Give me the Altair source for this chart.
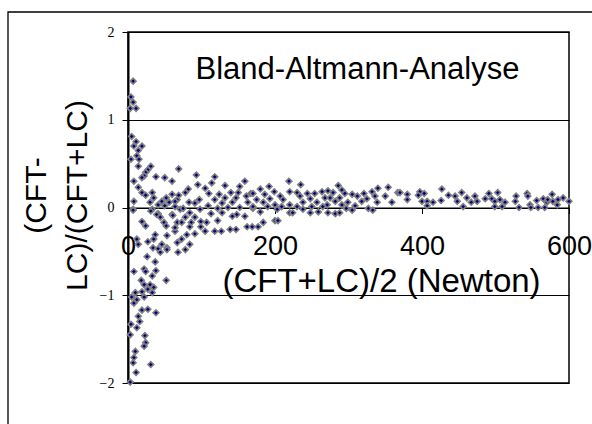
import altair as alt
import pandas as pd

# mean force (CFT+LC)/2 in Newton
mean_force = [
    7, 4, 7, 3, 11, 5, 11, 8, 19, 14, 12, 4, 15, 14, 31, 27, 24, 22, 19, 38, 50, 60, 8, 14, 69,
    19, 24, 33, 35, 8, 30, 41, 46, 52, 60, 67, 56, 50, 64, 7, 33, 41, 60, 71,
    7, 31, 39, 61, 19, 44, 24, 49, 67, 52, 37, 64, 12, 27, 35, 53, 67, 14, 46, 34, 41, 53,
    26, 44, 37, 8, 22, 24, 38, 52, 18, 33, 22, 30, 27, 35, 19, 33, 10, 5, 12, 22, 8, 19, 27,
    38, 14, 4, 16, 12, 3, 23, 24, 22, 10, 8, 7, 31, 11, 3,
    93, 118, 114, 95, 132, 159, 82, 105, 152, 110, 124, 140, 150, 167, 78, 69, 97, 118, 132,
    147, 161, 64, 83, 91, 109, 128, 142, 163, 75, 98, 122, 136, 152, 170, 84, 113, 128, 148,
    159, 78, 91, 99, 142, 73, 86, 107, 122, 84, 99, 105, 118, 127, 139, 147, 162, 169, 80, 91,
    73, 84, 78, 68, 64, 53,
    219, 235, 192, 180, 199, 220, 230, 244, 254, 264, 272, 170, 186, 207, 234, 175, 193, 211,
    248, 268, 184, 200, 220, 238, 257, 170, 190, 209, 230, 250, 265, 180, 203, 238, 259, 220,
    224, 248, 200, 204, 184, 177,
    286, 354, 367, 340, 332, 291, 279, 295, 305, 321, 275, 288, 312, 325, 336, 350, 282, 299,
    318, 339, 359, 271, 291, 309, 327, 333, 272, 282, 288, 297, 305,
    370, 380, 380, 397, 403, 395, 400, 407, 407, 415, 427, 426, 436, 445, 448, 454, 461, 456,
    467, 472, 475, 486, 491,
    503, 495, 499, 506, 513, 509, 499, 528, 527, 532, 543, 544, 547, 556, 558, 565, 570, 571,
    577, 578, 584, 592, 585, 600, 548, 567,
]

# relative difference (CFT-LC)/(CFT+LC)
rel_diff = [
    1.44, 1.26, 1.20, 1.13, 1.13, 0.81, 0.75, 0.70, 0.70, 0.65, 0.59, 0.55, 0.55, 0.47, 0.47,
    0.43, 0.40, 0.36, 0.34, 0.35, 0.34, 0.30, 0.30, 0.23, 0.44,
    0.17, 0.14, 0.17, 0.11, 0.07, 0.06, 0.03, 0.07, 0.11, 0.15, 0.09, 0.06, 0.02, 0.01, -0.02,
    -0.02, -0.07, -0.08, -0.02,
    -0.03, -0.04, -0.08, -0.09, -0.16, -0.11, -0.21, -0.17, -0.17, -0.21, -0.31, -0.27, -0.36,
    -0.39, -0.36, -0.32, -0.40, -0.42, -0.42, -0.46, -0.47, -0.46,
    -0.56, -0.51, -0.62, -0.73, -0.70, -0.73, -0.72, -0.83, -0.83, -0.78, -0.88, -0.88, -0.93,
    -0.91, -0.96, -0.97, -0.97, -1.02, -1.05, -1.02, -1.09, -1.17, -1.16,
    -1.20, -1.24, -1.33, -1.30, -1.37, -1.45, -1.46, -1.54, -1.58, -1.64, -1.71, -1.77, -1.79,
    -1.88, -1.99,
    0.37, 0.35, 0.28, 0.26, 0.25, 0.30, 0.21, 0.22, 0.24, 0.16, 0.15, 0.17, 0.17, 0.16, 0.17,
    0.14, 0.09, 0.09, 0.11,
    0.11, 0.13, 0.07, 0.06, 0.05, 0.02, 0.05, 0.06, 0.06, -0.01, -0.02, -0.01, 0.00, 0.00,
    -0.01, -0.06, -0.07, -0.06, -0.08,
    -0.10, -0.11, -0.11, -0.16, -0.10, -0.17, -0.17, -0.17, -0.15, -0.22, -0.22, -0.27, -0.27,
    -0.27, -0.25, -0.25, -0.22, -0.22, -0.31, -0.30,
    -0.36, -0.42, -0.48, -0.51, -0.23, -0.48,
    0.30, 0.26, 0.24, 0.21, 0.18, 0.18, 0.17, 0.16, 0.16, 0.18, 0.19, 0.16, 0.15, 0.13, 0.13,
    0.09, 0.10, 0.09,
    0.10, 0.11, 0.06, 0.03, 0.03, 0.06, 0.06, 0.01, 0.01, 0.01, 0.01, 0.01, 0.01, -0.05, -0.02,
    -0.02, -0.05, -0.06,
    -0.06, -0.06, -0.15, -0.15, -0.17, -0.22,
    0.25, 0.23, 0.17, 0.22, 0.18, 0.20, 0.17, 0.16, 0.15, 0.16, 0.11, 0.11, 0.13, 0.10, 0.13,
    0.13, 0.07, 0.06,
    0.07, 0.06, 0.06, 0.03, 0.03, 0.02, -0.01, -0.03, -0.06, -0.07, -0.06, -0.01, -0.03,
    0.17, 0.15, 0.09, 0.18, 0.16, 0.14, 0.07, 0.07, 0.02, 0.06, 0.21, 0.08, 0.14, 0.13, 0.07,
    0.17, 0.11, 0.01,
    0.06, 0.13, 0.07, 0.10, 0.16,
    0.17, 0.10, 0.07, 0.09, 0.06, 0.01, 0.01, 0.13, 0.07, 0.00, 0.16, 0.13, 0.03, 0.08, 0.00,
    0.10, 0.06, 0.09,
    0.15, 0.07, 0.03, 0.11, 0.09, 0.07, 0.00, 0.00,
]

n = min(len(mean_force), len(rel_diff))
df = pd.DataFrame({"mean": mean_force[:n], "diff": rel_diff[:n]})

x_ticks = [0, 200, 400, 600]
y_ticks = [-2, -1, 0, 1, 2]

SANS = "Liberation Sans"
SERIF = "Liberation Serif"

border = alt.Chart(pd.DataFrame({"a": [0]})).mark_rect(
    fill=None, stroke="black", strokeWidth=1.3
).encode(
    x=alt.value(-120), x2=alt.value(600), y=alt.value(-20), y2=alt.value(420)
)

points = alt.Chart(df).mark_point(
    shape="diamond", filled=True, fill="#000080", stroke="#808080",
    strokeWidth=1.6, size=34, opacity=1
).encode(
    x=alt.X("mean:Q",
            scale=alt.Scale(domain=[0, 600], nice=False, zero=False),
            axis=alt.Axis(
                values=x_ticks, grid=False, offset=-175.5,
                domainColor="black", domainWidth=1,
                tickColor="black", tickSize=6, tickWidth=1,
                labelFont=SANS, labelFontSize=27, labelColor="black",
                labelBaseline="alphabetic", labelPadding=41,
                labelFlush=False, labelOverlap=False,
                title="(CFT+LC)/2 (Newton)", titleFont=SANS, titleFontSize=33,
                titleFontWeight="normal", titleColor="black",
                titleAnchor="start", titleAlign="center",
                titleBaseline="alphabetic", titleX=253, titleY=84,
            )),
    y=alt.Y("diff:Q",
            scale=alt.Scale(domain=[-2, 2], nice=False, zero=False),
            axis=alt.Axis(
                values=y_ticks, grid=True, gridColor="black", gridWidth=1,
                gridOpacity=1,
                domainColor="black", domainWidth=2,
                tickColor="black", tickSize=6, tickWidth=1,
                labelFont=SERIF, labelFontSize=14, labelColor="black",
                labelPadding=8, labelFlush=False, labelOverlap=False,
                title=["(CFT-", "LC)/(CFT+LC)"], titleFont=SANS, titleFontSize=30,
                titleFontWeight="normal", titleColor="black",
                titleAngle=-90, titleAlign="center", titleBaseline="alphabetic",
                titleLineHeight=41, titleX=-83, titleY=163, titleAnchor="start",
            )),
)

chart = alt.layer(border, points).properties(
    width=441, height=351,
    autosize=alt.AutoSizeParams(type="none"),
    padding={"left": 128, "top": 32, "right": 23, "bottom": 41},
    background="white",
    title=alt.TitleParams(
        "Bland-Altmann-Analyse", font=SANS, fontSize=31, fontWeight="normal",
        color="black", anchor="middle", frame="group", dx=9, dy=99,
        baseline="alphabetic", offset=0,
    ),
).configure_view(stroke="black", strokeWidth=1.5)

chart.save("out.html", embed_options={"renderer": "svg", "actions": False})
